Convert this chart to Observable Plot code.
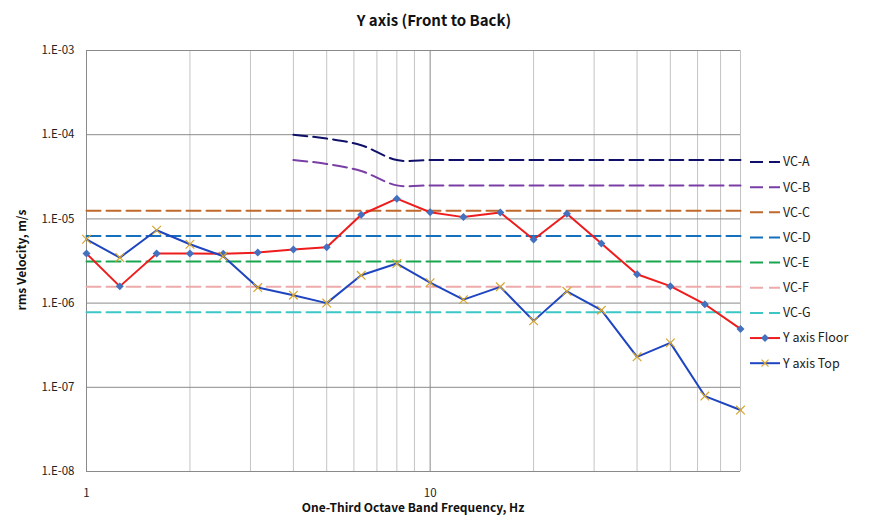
<!DOCTYPE html>
<html>
<head>
<meta charset="utf-8">
<script src="https://cdn.jsdelivr.net/npm/d3@7"></script>
<script src="https://cdn.jsdelivr.net/npm/@observablehq/plot@0.6"></script>
<style>
  body { margin: 0; background: #fff; }
  #chart { position: relative; width: 875px; height: 528px; }
  svg { font-family: "Noto Sans CJK KR", "Noto Sans", sans-serif; }
</style>
</head>
<body>
<div id="chart"></div>
<script>
// One-third octave band centre frequencies (Hz)
const freq = [1, 1.25, 1.6, 2, 2.5, 3.15, 4, 5, 6.3, 8, 10, 12.5, 16, 20, 25, 31.5, 40, 50, 63, 80];
// Measured rms velocity, m/s
const floorVals = [3.87e-6, 1.58e-6, 3.87e-6, 3.87e-6, 3.85e-6, 3.98e-6, 4.32e-6, 4.6e-6, 1.12e-5, 1.74e-5,
                   1.2e-5, 1.05e-5, 1.19e-5, 5.68e-6, 1.15e-5, 5.09e-6, 2.2e-6, 1.59e-6, 9.7e-7, 4.94e-7];
const topVals = [5.73e-6, 3.47e-6, 7.33e-6, 5.0e-6, 3.6e-6, 1.53e-6, 1.24e-6, 1.0e-6, 2.14e-6, 2.95e-6,
                 1.75e-6, 1.1e-6, 1.56e-6, 6.15e-7, 1.38e-6, 8.24e-7, 2.3e-7, 3.37e-7, 7.87e-8, 5.37e-8];
// Vibration criteria curves
const vcAFreq = [4, 5, 6.3, 8, 10, 12.5, 16, 20, 25, 31.5, 40, 50, 63, 80];
const vcAVals = [1e-4, 9e-5, 7.5e-5, 5e-5, 5e-5, 5e-5, 5e-5, 5e-5, 5e-5, 5e-5, 5e-5, 5e-5, 5e-5, 5e-5];
const vcBVals = [5e-5, 4.5e-5, 3.7e-5, 2.5e-5, 2.5e-5, 2.5e-5, 2.5e-5, 2.5e-5, 2.5e-5, 2.5e-5, 2.5e-5, 2.5e-5, 2.5e-5, 2.5e-5];
const vcFlatNames = ["VC-C", "VC-D", "VC-E", "VC-F", "VC-G"];
const vcFlatLevels = [1.25e-5, 6.25e-6, 3.125e-6, 1.5625e-6, 7.8e-7];
// Axis ticks
const yTicks = [1e-8, 1e-7, 1e-6, 1e-5, 1e-4, 1e-3];
const yTickLabels = ["1.E-08", "1.E-07", "1.E-06", "1.E-05", "1.E-04", "1.E-03"];
const xMajor = [1, 10];
const xMinor = [2, 3, 4, 5, 6, 7, 8, 9, 20, 30, 40, 50, 60, 70, 80];
const xTickLabels = ["1", "10"];

const colors = {
  "VC-A": "#10106a", "VC-B": "#7a3fa6", "VC-C": "#c0692c", "VC-D": "#1470bc",
  "VC-E": "#1aa650", "VC-F": "#eeaaaa", "VC-G": "#3cc6c6",
  floor: "#ee1c1c", top: "#1f45c0", diamond: "#4370bf", cross: "#d6a52a"
};
const dash = "14,6";

const series = (xs, ys) => xs.map((f, i) => ({f, v: ys[i]}));
const floorData = series(freq, floorVals);
const topData = series(freq, topVals);
const vcA = series(vcAFreq, vcAVals);
const vcB = series(vcAFreq, vcBVals);
const flat = vcFlatNames.map((n, k) => ({name: n, data: freq.map(f => ({f, v: vcFlatLevels[k]}))}));

const plot = Plot.plot({
  width: 875, height: 528,
  marginLeft: 86, marginTop: 50, marginRight: 135, marginBottom: 57,
  x: {type: "log", domain: [1, 80]},
  y: {type: "log", domain: [1e-8, 1e-3]},
  style: {fontFamily: '"Noto Sans CJK KR", "Noto Sans", sans-serif', fontSize: "11px", color: "#222"},
  marks: [
    Plot.ruleX(xMinor, {stroke: "#c4c4c4", strokeWidth: 1}),
    Plot.ruleX(xMajor, {stroke: "#8a8a8a", strokeWidth: 1}),
    Plot.ruleY(yTicks, {stroke: "#8a8a8a", strokeWidth: 1}),
    Plot.axisY({ticks: yTicks, tickSize: 0, tickPadding: 12, tickFormat: d => yTickLabels[yTicks.indexOf(d)], fontSize: 11.5, label: null}),
    Plot.axisX({ticks: xMajor, tickSize: 0, tickPadding: 17, tickFormat: d => xTickLabels[xMajor.indexOf(d)], fontSize: 11.5, label: null}),
    ...flat.map(s => Plot.line(s.data, {x: "f", y: "v", stroke: colors[s.name], strokeWidth: 2, strokeDasharray: dash})),
    Plot.line(vcB, {x: "f", y: "v", stroke: colors["VC-B"], strokeWidth: 2, strokeDasharray: dash, curve: "catmull-rom"}),
    Plot.line(vcA, {x: "f", y: "v", stroke: colors["VC-A"], strokeWidth: 2, strokeDasharray: dash, curve: "catmull-rom"}),
    Plot.line(floorData, {x: "f", y: "v", stroke: colors.floor, strokeWidth: 2}),
    Plot.dot(floorData, {x: "f", y: "v", symbol: "diamond2", r: 3.6, fill: colors.diamond, stroke: "none"}),
    Plot.line(topData, {x: "f", y: "v", stroke: colors.top, strokeWidth: 2}),
    Plot.dot(topData, {x: "f", y: "v", symbol: "times", r: 4, stroke: colors.cross, strokeWidth: 1.2})
  ]
});
document.getElementById("chart").appendChild(plot);

const svg = d3.select(plot);
// Title and axis labels
svg.append("text").attr("x", 434).attr("y", 26).attr("text-anchor", "middle")
  .attr("font-size", 15).attr("font-weight", "bold").attr("fill", "#111").text("Y axis (Front to Back)");
svg.append("text").attr("x", 413).attr("y", 512).attr("text-anchor", "middle")
  .attr("font-size", 12).attr("font-weight", "bold").attr("fill", "#111").text("One-Third Octave Band Frequency, Hz");
svg.append("text").attr("transform", "translate(26,260) rotate(-90)").attr("text-anchor", "middle")
  .attr("font-size", 12).attr("font-weight", "bold").attr("fill", "#111").text("rms Velocity, m/s");

// Legend
const legendItems = ["VC-A", "VC-B", "VC-C", "VC-D", "VC-E", "VC-F", "VC-G"].map(n => ({label: n, type: "dash", color: colors[n]}))
  .concat([{label: "Y axis Floor", type: "floor"}, {label: "Y axis Top", type: "top"}]);
const lg = svg.append("g");
legendItems.forEach((it, i) => {
  const y = 162 + i * 25.15;
  const g = lg.append("g").attr("transform", `translate(0,${y})`);
  if (it.type === "dash") {
    g.append("line").attr("x1", 750).attr("x2", 780).attr("y1", 0).attr("y2", 0)
      .attr("stroke", it.color).attr("stroke-width", 2).attr("stroke-dasharray", "13,6");
  } else {
    const c = it.type === "floor" ? colors.floor : colors.top;
    g.append("line").attr("x1", 750).attr("x2", 780).attr("y1", 0).attr("y2", 0)
      .attr("stroke", c).attr("stroke-width", 2);
    if (it.type === "floor") {
      g.append("path").attr("d", d3.symbol(d3.symbolDiamond2, 40)()).attr("transform", "translate(765,0)").attr("fill", colors.diamond);
    } else {
      g.append("path").attr("d", "M-3.5,-3.5L3.5,3.5M-3.5,3.5L3.5,-3.5").attr("transform", "translate(765,0)")
        .attr("stroke", colors.cross).attr("stroke-width", 1.2);
    }
  }
  g.append("text").attr("x", 783).attr("y", 0).attr("dy", "0.35em").attr("text-anchor", "start")
    .attr("font-size", 12.5).attr("fill", "#222").text(it.label);
});
</script>
</body>
</html>
